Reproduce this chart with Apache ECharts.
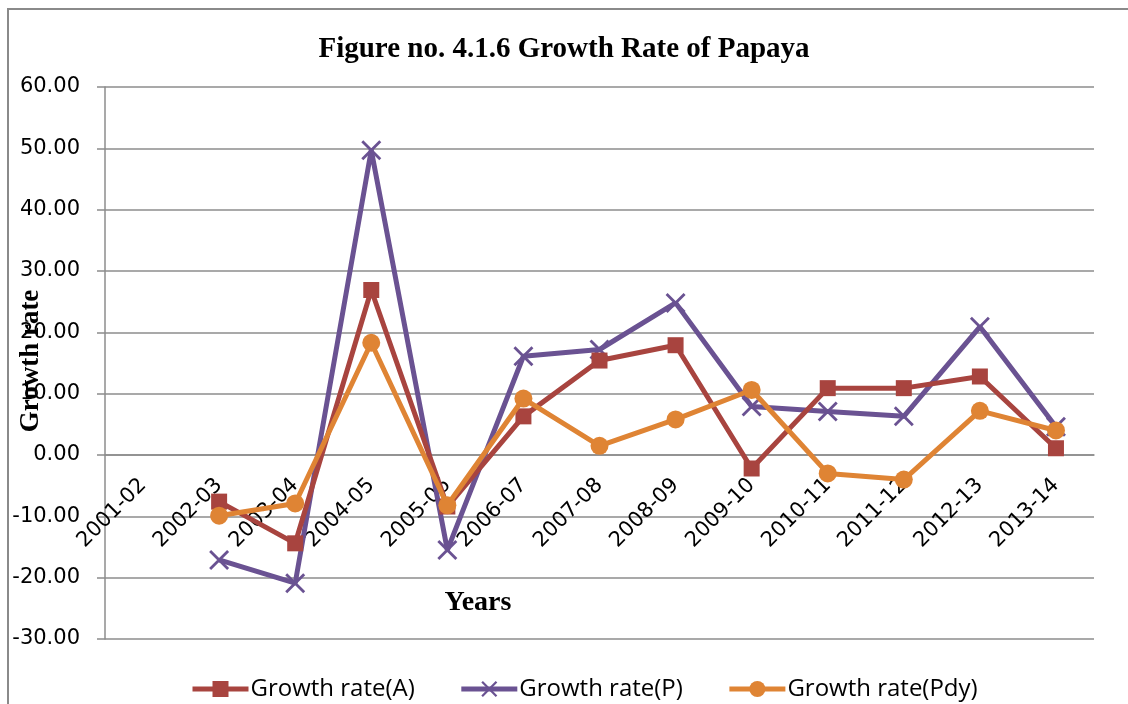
<!DOCTYPE html>
<html>
<head>
<meta charset="utf-8">
<script src="https://cdn.jsdelivr.net/npm/echarts@6/dist/echarts.min.js"></script>
<style>
  html, body { margin: 0; padding: 0; background: #fff; }
  #chart { width: 1128px; height: 704px; }
</style>
</head>
<body>
<div id="chart"></div>
<script>
// Crop years
const years = ['2001-02', '2002-03', '2003-04', '2004-05', '2005-06', '2006-07', '2007-08',
  '2008-09', '2009-10', '2010-11', '2011-12', '2012-13', '2013-14'];

// Growth rate of area (%)
const growthA = [null, -7.6, -14.4, 26.9, -8.4, 6.3, 15.4, 17.9, -2.2, 10.9, 10.9, 12.8, 1.1];
// Growth rate of production (%)
const growthP = [null, -17.1, -20.9, 49.7, -15.5, 16.1, 17.2, 24.8, 7.9, 7.1, 6.3, 20.9, 4.6];
// Growth rate of productivity (%)
const growthPdy = [null, -9.9, -7.9, 18.3, -8.2, 9.2, 1.5, 5.8, 10.6, -3.0, -4.0, 7.2, 4.0];

const seriesNames = ['Growth rate(A)', 'Growth rate(P)', 'Growth rate(Pdy)'];
const yTicks = { min: -30, max: 60, step: 10 };

const RED = '#A8443F';
const PURPLE = '#6A5292';
const ORANGE = '#DF8434';
const GRID = '#8c8c8c';

// plot box
const GRID_TOP = 87, GRID_BOTTOM = 65, CHART_H = 704;
const plotH = CHART_H - GRID_TOP - GRID_BOTTOM;
// lift the category axis from the bottom edge up to the zero line
const zeroLift = plotH * (0 - yTicks.min) / (yTicks.max - yTicks.min);

// thin "x" marker drawn as two filled diagonal bars
const crossSymbol = 'path://M0,1 L1,0 L10,9 L9,10 Z M9,0 L10,1 L1,10 L0,9 Z';

const chart = echarts.init(document.getElementById('chart'), null, { renderer: 'canvas' });

chart.setOption({
  animation: false,
  backgroundColor: '#fff',
  title: {
    text: 'Figure no. 4.1.6 Growth Rate of Papaya',
    left: 'center',
    top: 30,
    textStyle: { fontFamily: 'Liberation Serif', fontWeight: 'bold', fontSize: 29, color: '#000' }
  },
  graphic: [
    {
      type: 'rect', silent: true, z: -1,
      shape: { x: 8, y: 9, width: 1300, height: 900 },
      style: { fill: 'none', stroke: '#8a8a8a', lineWidth: 2 }
    },
    {
      type: 'text', silent: true,
      x: 478, y: 603,
      style: {
        text: 'Years', align: 'center', verticalAlign: 'middle',
        font: 'bold 28px "Liberation Serif"', fill: '#000'
      }
    },
    {
      type: 'text', silent: true,
      x: 31, y: 361, rotation: Math.PI / 2,
      style: {
        text: 'Growth rate', align: 'center', verticalAlign: 'middle',
        font: 'bold 27px "Liberation Serif"', fill: '#000'
      }
    }
  ],
  legend: {
    top: 672,
    left: 185,
    itemWidth: 56,
    itemHeight: 20,
    itemGap: 44,
    lineStyle: { width: 5 },
    textStyle: { fontFamily: 'Open Sans', fontSize: 24, color: '#000', padding: [0, 0, 0, -3] },
    data: seriesNames
  },
  grid: { left: 105, right: 34, top: GRID_TOP, bottom: GRID_BOTTOM, containLabel: false, outerBoundsMode: 'none' },
  xAxis: {
    type: 'category',
    data: years,
    boundaryGap: true,
    offset: -zeroLift,
    axisLine: { onZero: false, lineStyle: { color: GRID, width: 1.5 } },
    axisTick: { show: false },
    axisLabel: {
      rotate: 45, margin: 27, interval: 0,
      fontFamily: 'DejaVu Sans', fontSize: 21, color: '#000'
    }
  },
  yAxis: {
    type: 'value',
    min: yTicks.min, max: yTicks.max, interval: yTicks.step,
    axisLine: { show: true, lineStyle: { color: GRID, width: 1.5 } },
    axisTick: { show: true, length: 8, lineStyle: { color: GRID, width: 1.5 } },
    splitLine: { lineStyle: { color: GRID, width: 1.5 } },
    axisLabel: {
      margin: 25, fontFamily: 'DejaVu Sans', fontSize: 21, color: '#000',
      formatter: v => v.toFixed(2)
    }
  },
  series: [
    {
      name: seriesNames[0], type: 'line', data: growthA,
      symbol: 'rect', symbolSize: 16,
      lineStyle: { color: RED, width: 5 },
      itemStyle: { color: RED },
      connectNulls: false, z: 3
    },
    {
      name: seriesNames[1], type: 'line', data: growthP,
      symbol: crossSymbol, symbolSize: 20,
      lineStyle: { color: PURPLE, width: 5 },
      itemStyle: { color: PURPLE },
      connectNulls: false, z: 2
    },
    {
      name: seriesNames[2], type: 'line', data: growthPdy,
      symbol: 'circle', symbolSize: 18,
      lineStyle: { color: ORANGE, width: 5 },
      itemStyle: { color: ORANGE },
      connectNulls: false, z: 4
    }
  ]
});
</script>
</body>
</html>
